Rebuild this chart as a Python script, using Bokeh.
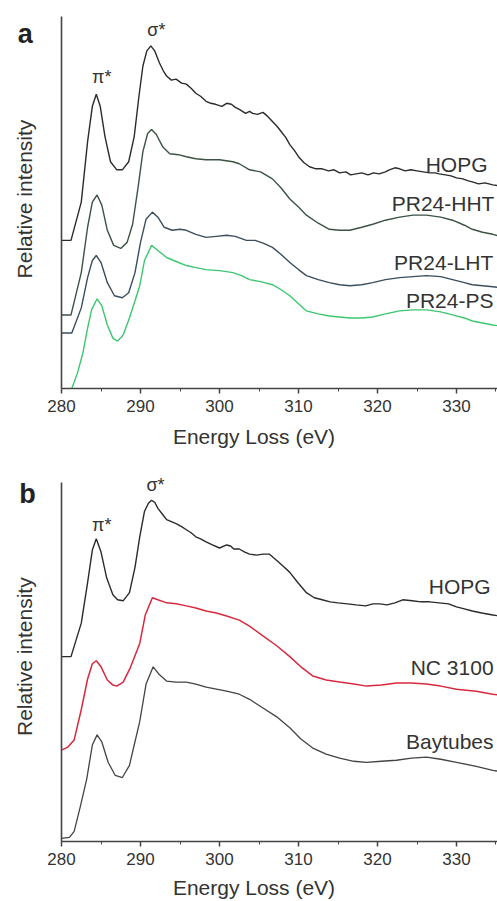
import math
from bokeh.plotting import figure
from bokeh.layouts import column
from bokeh.models import Range1d, Label, SingleIntervalTicker, FixedTicker
from bokeh.embed import file_html
from bokeh.resources import INLINE

FONT = "Liberation Sans"

# ---------------- Panel a data (energy loss eV, relative intensity a.u.) ----------------
a_hopg_x = [280, 281.2, 282.5, 283.3, 283.9, 284.4, 284.9, 285.5, 286.2, 287.0, 287.7, 288.5, 289.2,
            289.8, 290.3, 290.8, 291.3, 291.8, 292.4, 292.9, 293.3, 293.9, 294.5, 295.2, 295.8, 296.4,
            297.0, 297.6, 298.3, 298.9, 299.5, 300.3, 300.9, 301.5, 302.0, 302.5, 303.3, 303.8, 304.2,
            304.8, 305.5, 306.1, 306.7, 307.3, 307.8, 308.4, 308.9, 309.5, 310.0, 310.7, 311.4, 312.2,
            313.0, 313.8, 314.5, 315.2, 316.0, 316.6, 317.3, 318.0, 318.8, 319.5, 320.2, 321.0, 321.5,
            322.2, 322.8, 323.5, 324.2, 325.0, 325.8, 326.6, 327.3, 327.8, 328.6, 329.3, 330.0, 330.8,
            331.5, 332.0, 332.8, 333.6, 334.6, 335.5]
a_hopg_y = [147, 147, 185, 245, 280, 292, 280, 250, 225, 217, 217, 225, 250,
            290, 320, 335, 340, 335, 323, 315, 310, 306, 307, 303, 302, 298,
            293, 290, 285, 283, 282, 280, 283, 282, 279, 277, 273, 275, 273,
            272, 274, 270, 265, 260, 255, 249, 242, 236, 230, 224, 220, 218,
            218, 216, 217, 214, 215, 212, 213, 214, 212, 214, 213, 215, 217,
            219, 218, 216, 217, 216, 215, 214, 214, 213, 212, 211, 209, 208,
            206, 205, 203, 204, 202, 201]

a_hht_x = [280, 281.2, 282.5, 283.3, 283.9, 284.5, 285.1, 285.8, 286.6, 287.5, 288.3, 289.0, 289.7,
           290.3, 290.9, 291.4, 292.0, 292.8, 293.7, 294.8, 295.8, 297.0, 298.3, 300.0, 301.7, 302.5,
           303.8, 305.2, 306.7, 307.8, 308.9, 310.0, 311.0, 312.5, 313.9, 315.2, 316.5, 318.0, 319.4,
           321.0, 322.8, 324.5, 326.2, 328.0, 329.5, 331.0, 332.0, 333.3, 334.6, 335.5]
a_hht_y = [73, 73, 115, 160, 185, 192, 182, 157, 142, 139, 145, 163, 200,
           235, 253, 257, 252, 240, 233, 232, 230, 228, 227, 227, 225, 223,
           217, 215, 208, 199, 188, 180, 172, 164, 158, 157, 157, 160, 163,
           167, 170, 172, 172, 170, 167, 162, 158, 155, 153, 151]

a_lht_x = [280, 281.3, 282.5, 283.3, 283.9, 284.4, 285.0, 285.8, 286.7, 287.7, 288.5, 289.3, 290.0,
           290.7, 291.5, 292.2, 293.0, 294.0, 295.0, 295.8, 297.0, 298.3, 299.6, 300.9, 302.0, 303.4,
           304.5, 305.6, 306.7, 307.8, 308.9, 310.0, 311.0, 312.5, 313.9, 315.2, 316.5, 318.0, 319.4,
           321.0, 322.8, 324.5, 326.2, 328.0, 329.5, 331.0, 332.0, 333.3, 334.6, 335.5]
a_lht_y = [55, 55, 80, 110, 127, 132, 125, 105, 92, 90, 95, 115, 145,
           168, 175, 170, 160, 157, 158, 157, 153, 150, 151, 152, 151, 147,
           147, 144, 140, 133, 125, 118, 112, 108, 105, 103, 102, 103, 105,
           108, 110, 111, 112, 111, 108, 105, 103, 102, 101, 100]

a_ps_x = [281.3, 282.0, 282.7, 283.3, 283.8, 284.5, 285.1, 285.8, 286.5, 287.1, 287.8, 288.6, 289.3,
          289.9, 290.5, 291.4, 292.2, 293.3, 294.5, 295.8, 297.0, 298.3, 300.0, 301.7, 302.8, 303.8,
          305.2, 306.7, 307.8, 308.9, 310.0, 311.0, 312.5, 313.9, 315.2, 316.5, 318.0, 319.4, 321.0,
          322.8, 324.5, 326.2, 328.0, 329.5, 331.0, 332.0, 333.3, 334.6, 335.5]
a_ps_y = [0, 15, 35, 60, 78, 89, 82, 63, 50, 47, 53, 70, 87,
          102, 127, 142, 137, 130, 126, 122, 120, 118, 117, 115, 112, 108,
          106, 103, 98, 92, 84, 77, 74, 72, 71, 70, 70, 71, 74,
          77, 78, 78, 76, 73, 70, 67, 65, 63, 62]

# ---------------- Panel b data ----------------
b_hopg_x = [280, 281.2, 282.5, 283.3, 283.9, 284.4, 285.0, 285.7, 286.5, 287.1, 287.8, 288.6, 289.3,
            289.9, 290.5, 291.0, 291.4, 291.8, 292.2, 292.8, 293.3, 293.9, 294.5, 295.2, 295.8, 296.4,
            297.0, 297.6, 298.3, 299.1, 300.0, 300.9, 301.4, 301.8, 302.5, 303.2, 303.8, 304.7, 305.5,
            306.3, 307.5, 308.2, 308.9, 309.8, 311.0, 312.0, 313.0, 314.0, 315.0, 316.2, 317.3, 318.5,
            319.4, 320.3, 321.2, 322.2, 323.2, 324.4, 325.5, 326.6, 327.8, 329.0, 330.0, 331.0, 332.0,
            333.2, 334.6, 335.5]
b_hopg_y = [182, 182, 215, 255, 287, 298, 285, 260, 243, 238, 237, 245, 270,
            300, 325, 333, 336, 334, 328, 322, 317, 315, 313, 310, 307, 304,
            300, 298, 295, 292, 289, 292, 291, 288, 288, 285, 283, 282, 283,
            283, 275, 270, 265, 256, 245, 240, 238, 236, 235, 234, 233, 232,
            234, 234, 233, 235, 238, 237, 236, 236, 235, 234, 231, 229, 227,
            225, 223, 222]

b_nc_x = [280, 280.8, 281.6, 282.5, 283.3, 283.9, 284.4, 285.0, 285.8, 286.5, 287.0, 287.8, 288.7,
          289.9, 290.6, 291.5, 292.2, 293.3, 294.5, 295.8, 297.0, 298.3, 299.6, 300.9, 302.5, 303.8,
          305.4, 307.2, 308.9, 310.3, 311.8, 313.5, 315.2, 317.0, 318.6, 320.5, 322.4, 324.3, 326.2,
          328.0, 330.0, 332.5, 334.6, 335.5]
b_nc_y = [90, 93, 100, 130, 160, 175, 178, 172, 159, 154, 153, 157, 171,
          195, 223, 240, 238, 235, 234, 232, 230, 227, 225, 222, 218, 212,
          203, 193, 182, 172, 163, 159, 157, 155, 153, 154, 156, 156, 155,
          153, 150, 148, 145, 144]

b_bay_x = [280, 281.0, 281.6, 282.4, 283.2, 283.9, 284.5, 285.1, 285.9, 286.8, 287.7, 288.6, 289.2,
           289.9, 290.7, 291.6, 292.3, 293.3, 294.5, 295.8, 297.0, 298.3, 299.6, 300.9, 302.5, 303.8,
           305.4, 307.2, 308.9, 310.3, 311.8, 313.5, 315.2, 317.0, 318.6, 320.5, 322.4, 324.3, 326.2,
           328.0, 330.0, 332.5, 334.6, 335.5]
b_bay_y = [3, 4, 10, 35, 62, 95, 105, 98, 78, 65, 63, 75, 95,
           118, 155, 172, 165, 158, 157, 157, 155, 152, 150, 148, 145, 140,
           132, 123, 112, 101, 92, 86, 82, 79, 78, 79, 80, 82, 83,
           81, 78, 74, 70, 69]

# series labels: (text, x start eV, y centre a.u.)
a_labels = [("HOPG", 326.1, 222), ("PR24-HHT", 321.8, 184), ("PR24-LHT", 322.1, 125), ("PR24-PS", 323.6, 87)]
b_labels = [("HOPG", 326.5, 251), ("NC 3100", 324.2, 171), ("Baytubes", 323.6, 98)]

X_AXIS_START, X_END = 280, 335.19
X_VIEW_START = 273.54          # frame extends left of the axis to hold the panel letter / y title
Y_VIEW_END = 385


def make_panel(height, axis_top, letter, letter_pos, ytitle_pos, pi_pos, sigma_pos, title_standoff):
    p = figure(width=497, height=height, output_backend="svg", toolbar_location=None,
               x_range=Range1d(X_VIEW_START, X_END), y_range=Range1d(0, Y_VIEW_END),
               min_border_left=10, min_border_right=0, min_border_top=0, min_border_bottom=10)
    p.outline_line_color = None
    p.xgrid.visible = False
    p.ygrid.visible = False
    p.background_fill_color = "white"
    p.border_fill_color = "white"

    xa = p.xaxis[0]
    xa.bounds = (X_AXIS_START, X_END)
    xa.ticker = SingleIntervalTicker(interval=10, num_minor_ticks=2)
    xa.axis_line_color = "#444444"
    xa.axis_line_width = 1.6
    xa.major_tick_line_color = "#444444"
    xa.minor_tick_line_color = "#444444"
    xa.major_tick_line_width = 1.5
    xa.major_tick_out = 5
    xa.major_tick_in = 0
    xa.minor_tick_out = 3
    xa.minor_tick_in = 0
    xa.major_label_text_font = FONT
    xa.major_label_text_font_size = "17px"
    xa.major_label_text_color = "#333333"
    xa.major_label_standoff = 6
    xa.axis_label = "Energy Loss (eV)"
    xa.axis_label_text_font = FONT
    xa.axis_label_text_font_size = "21px"
    xa.axis_label_text_font_style = "normal"
    xa.axis_label_text_color = "#333333"
    xa.axis_label_standoff = title_standoff

    ya = p.yaxis[0]
    ya.fixed_location = X_AXIS_START
    ya.bounds = (0, axis_top)
    ya.ticker = FixedTicker(ticks=[])
    ya.axis_line_color = "#444444"
    ya.axis_line_width = 1.6
    ya.major_tick_out = 0
    ya.major_tick_in = 0
    ya.minor_tick_out = 0
    ya.minor_tick_in = 0
    ya.major_label_text_font_size = "0px"

    p.add_layout(Label(x=ytitle_pos[0], y=ytitle_pos[1], text="Relative intensity", text_font=FONT,
                       text_font_size="21px", text_color="#333333", angle=math.pi / 2,
                       text_align="center", text_baseline="middle"))
    p.add_layout(Label(x=letter_pos[0], y=letter_pos[1], text=letter, text_font=FONT,
                       text_font_size="27px", text_font_style="bold", text_color="#222222",
                       text_align="center", text_baseline="middle"))
    p.add_layout(Label(x=pi_pos[0], y=pi_pos[1], text="π*", text_font=FONT,
                       text_font_size="18px", text_color="#333333",
                       text_align="center", text_baseline="middle"))
    p.add_layout(Label(x=sigma_pos[0], y=sigma_pos[1], text="σ*", text_font=FONT,
                       text_font_size="18px", text_color="#333333",
                       text_align="center", text_baseline="middle"))
    return p


def add_labels(p, labels):
    for txt, lx, ly in labels:
        p.add_layout(Label(x=lx, y=ly, text=txt, text_font=FONT, text_font_size="21px",
                           text_color="#333333", text_align="left", text_baseline="middle"))


pa = make_panel(450, 369, "a", (275.4, 352), (275.3, 188), (285.1, 309), (292.0, 356), 10)
pa.line(a_hopg_x, a_hopg_y, line_color="#2b2b2b", line_width=1.4)
pa.line(a_hht_x, a_hht_y, line_color="#3b5244", line_width=1.4)
pa.line(a_lht_x, a_lht_y, line_color="#3a4e5e", line_width=1.4)
pa.line(a_ps_x, a_ps_y, line_color="#3cc76f", line_width=1.4)
add_labels(pa, a_labels)

pb = make_panel(451, 353, "b", (275.7, 342), (275.3, 182), (285.1, 312), (291.9, 351), 8)
pb.line(b_hopg_x, b_hopg_y, line_color="#2b2b2b", line_width=1.4)
pb.line(b_nc_x, b_nc_y, line_color="#d9283e", line_width=1.5)
pb.line(b_bay_x, b_bay_y, line_color="#444444", line_width=1.3)
add_labels(pb, b_labels)

layout = column(pa, pb, spacing=0)
open("out.html", "w").write(file_html(layout, INLINE))
